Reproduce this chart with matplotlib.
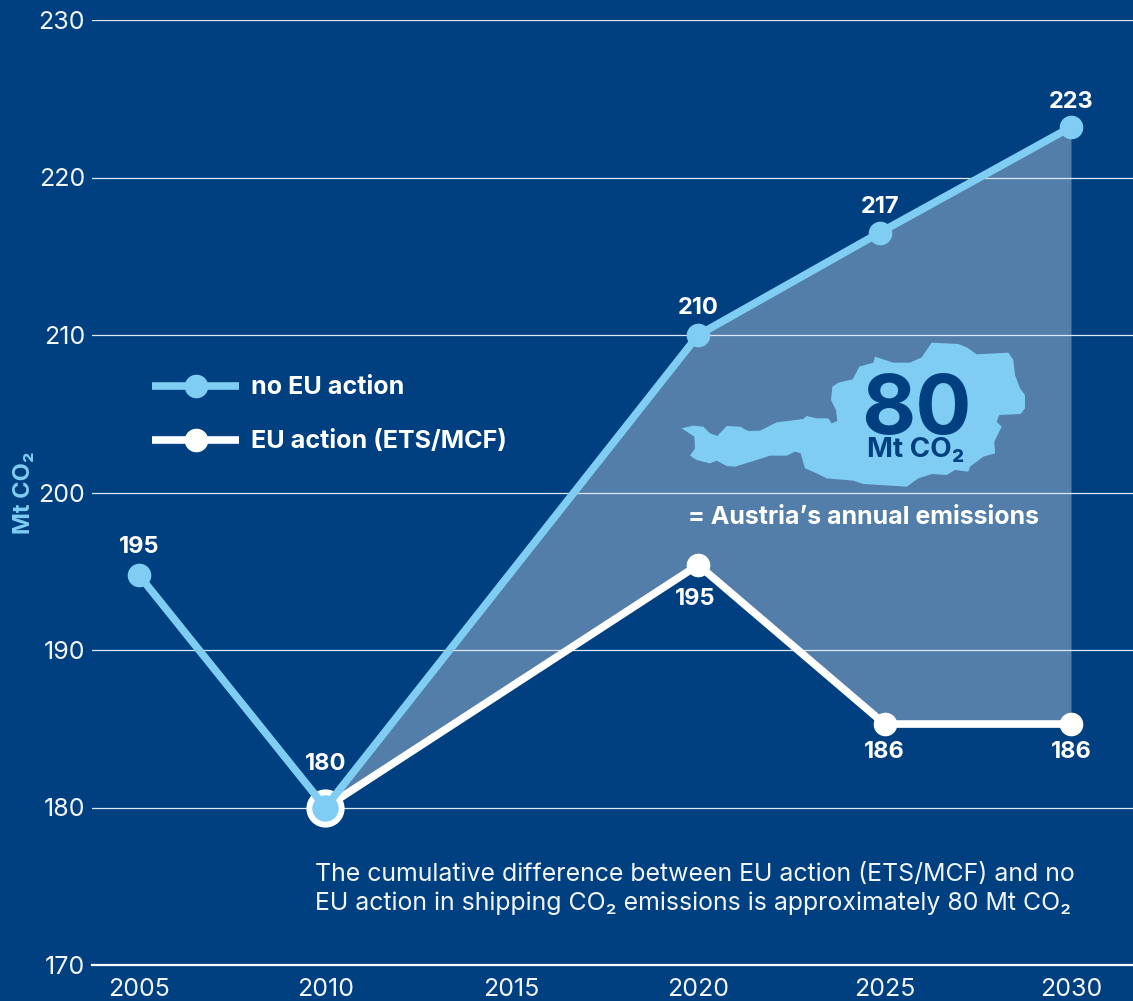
import matplotlib
matplotlib.use('Agg')
from matplotlib import pyplot as plt
from matplotlib.patches import Polygon
import numpy as np

plt.rcParams['font.family'] = ['Inter', 'DejaVu Sans']

NAVY = '#004081'
SKY = '#7fcdf3'

years = [2005, 2010, 2015, 2020, 2025, 2030]
y_ticks = [170, 180, 190, 200, 210, 220, 230]

# the 2025 point of this series sits slightly left of the tick in the original
no_action_years = [2005, 2010, 2020, 2024.87, 2030]
no_action = [194.75, 180.0, 210.0, 216.5, 223.2]
no_action_labels = ['195', '180', '210', '217', '223']

eu_action_years = [2010, 2020, 2025, 2030]
eu_action = [180.0, 195.4, 185.3, 185.3]
eu_action_labels = ['195', '186', '186']

# outline of Austria, traced in px of the reference
austria_x = [65, 100, 130, 150, 172, 200, 240, 265, 300, 350, 430, 440, 470, 505, 515, 532, 528, 513, 517, 535,
             578, 598, 640, 645, 700, 750, 785, 815, 895, 920, 950, 1045, 1060, 1065, 1080, 1095, 1095, 1082,
             1018, 1010, 1025, 1003, 1005, 970, 930, 925, 885, 860, 815, 775, 740, 610, 580, 500, 470, 435, 422,
             405, 380, 330, 290, 225, 200, 170, 150, 110, 90, 105, 103]
austria_y = [325, 317, 320, 340, 348, 318, 320, 333, 332, 307, 297, 288, 295, 295, 310, 303, 270, 240, 200, 188,
             178, 140, 128, 110, 128, 128, 112, 68, 72, 82, 103, 98, 120, 165, 205, 225, 265, 282,
             285, 305, 320, 365, 400, 410, 440, 455, 450, 465, 462, 475, 500, 492, 482, 475, 460, 445, 400,
             395, 407, 407, 420, 440, 438, 422, 430, 420, 407, 385, 350]

W, H = 1133, 1001
fig = plt.figure(figsize=(W / 100, H / 100), dpi=100, facecolor=NAVY)
ax = fig.add_axes([92 / W, (H - 965) / H, (W - 92) / W, 945 / H], facecolor=NAVY)
ax.set_ylim(170, 230)
ax.set_xlim(2005 - 47 / 37.28, 2030 + 62 / 37.28)
for s in ['top', 'right', 'left']:
    ax.spines[s].set_visible(False)
ax.spines['bottom'].set_color('white')
ax.spines['bottom'].set_linewidth(1.6)
ax.spines['bottom'].set_zorder(6)

for t in y_ticks[1:]:
    ax.axhline(t, color='#dfe8f2', lw=0.9, zorder=3)

ax.set_xticks(years)
ax.set_xticklabels(years)
ax.set_yticks(y_ticks)
ax.tick_params(length=0, colors='#f2f6fa', labelsize=18)
ax.tick_params(axis='x', pad=9)
ax.tick_params(axis='y', pad=5)
ax.set_ylabel('Mt CO₂', color=SKY, fontsize=17, fontweight='bold')
ax.yaxis.set_label_coords(-57 / (W - 92), 0.5, transform=ax.transAxes)

# shaded gap between the two scenarios
ax.fill_between(eu_action_years, no_action[1:], eu_action, color='white', alpha=0.33, lw=0, zorder=2)

ax.plot(eu_action_years, eu_action, color='white', lw=5.5, zorder=4)
ax.plot(eu_action_years[1:], eu_action[1:], 'o', color='white', ms=16, zorder=4)
ax.plot([2010], [180], 'o', mfc=SKY, mec='white', mew=5, ms=22.5, zorder=4.5)
ax.plot(no_action_years, no_action, color=SKY, lw=5.5, zorder=5)
ax.plot(no_action_years, no_action, 'o', color=SKY, ms=16, zorder=5)
ax.plot([2010], [180], 'o', color=SKY, ms=18, zorder=5)

# label distance above the point, in px
above = [28, 43, 27, 25.5, 25.5]
for x, v, lab, d in zip(no_action_years, no_action, no_action_labels, above):
    ax.annotate(lab, (x, v), xytext=(0, d * 0.72), textcoords='offset points', ha='center', va='center',
                color='white', fontsize=17, fontweight='bold', zorder=7)
below = [34, 28, 28]
for x, v, lab, d in zip(eu_action_years[1:], eu_action[1:], eu_action_labels, below):
    ax.annotate(lab, (x, v), xytext=(-2 if x == 2020 else 0, -d * 0.72), textcoords='offset points', ha='center',
                va='center', color='white', fontsize=17, fontweight='bold', zorder=7)

# map, placed in figure px
px = (660 + np.array(austria_x) / 3) / W
py = 1 - (320 + np.array(austria_y) / 3) / H
fig.add_artist(Polygon(np.column_stack([px, py]), closed=True, fc=SKY, ec='none', zorder=8,
                       transform=fig.transFigure))


def put(x, y, s, **kw):
    fig.text(x / W, 1 - y / H, s, zorder=9, va='center', **kw)


put(916, 412, '80', color=NAVY, fontsize=60, fontweight='bold', ha='center')
put(916, 450, 'Mt CO₂', color=NAVY, fontsize=20, fontweight='bold', ha='center')
put(688, 517, '= Austria’s annual emissions', color='white', fontsize=18, fontweight='bold', ha='left')

# legend drawn by hand
for yy, col, lab in [(386, SKY, 'no EU action'), (440, 'white', 'EU action (ETS/MCF)')]:
    fig.add_artist(plt.Line2D([152 / W, 239 / W], [1 - yy / H] * 2, color=col, lw=5.5, zorder=8,
                              solid_capstyle='butt', transform=fig.transFigure))
    fig.add_artist(plt.Line2D([196 / W], [1 - yy / H], marker='o', ms=16, color=col, zorder=8,
                              transform=fig.transFigure))
    put(251, yy + 2, lab, color='white', fontsize=18.1, fontweight='bold', ha='left')

put(315, 875, 'The cumulative difference between EU action (ETS/MCF) and no', color='#f2f6fa', fontsize=17.9,
    ha='left')
put(315, 903, 'EU action in shipping CO₂ emissions is approximately 80 Mt CO₂', color='#f2f6fa', fontsize=17.9,
    ha='left')

fig.savefig('out.png', dpi=100, facecolor=NAVY)
